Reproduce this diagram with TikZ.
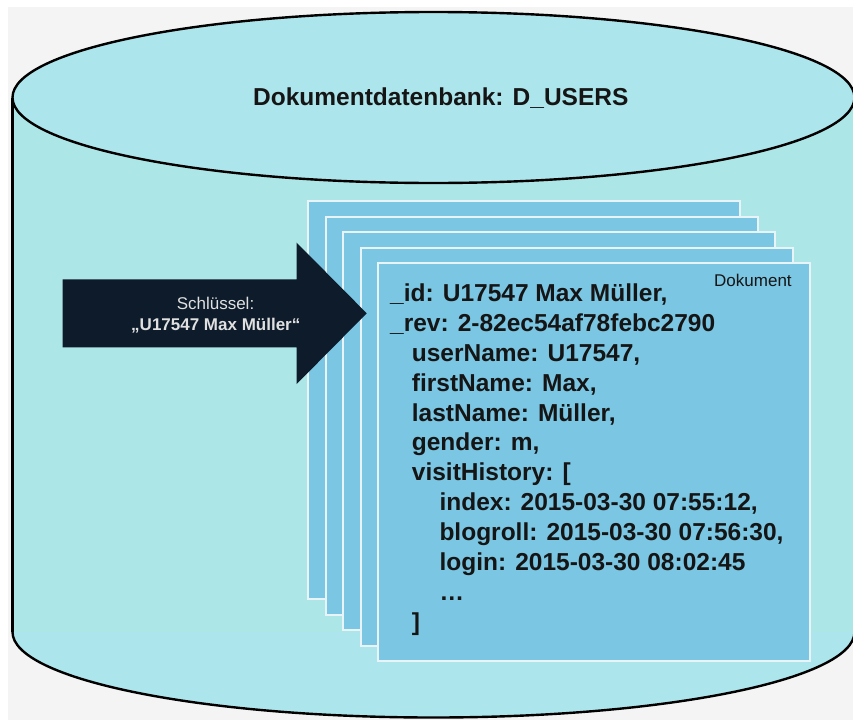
\documentclass[tikz,border=0pt]{standalone}
\usepackage{fontspec}
\setmainfont{Liberation Sans}
\definecolor{bggray}{HTML}{F4F4F4}
\definecolor{cylbody}{HTML}{ACE6E6}
\definecolor{cyltop}{HTML}{ACE6EC}
\definecolor{pagefill}{HTML}{7AC6E3}
\definecolor{pageedge}{HTML}{E8F4F8}
\definecolor{arrowc}{HTML}{0D1B2A}
\definecolor{txt}{HTML}{151515}
\begin{document}
\begin{tikzpicture}[x=1pt,y=-1pt,
  outline/.style={draw=black,line width=2.4pt},
  docpage/.style={draw=pageedge,fill=pagefill,line width=2pt,minimum width=432pt,minimum height=398pt,inner sep=0pt,anchor=north west},
  docline/.style={anchor=base west,inner sep=0pt,text=txt,font=\fontsize{24.5}{29}\selectfont\bfseries},
  keytext/.style={anchor=base,inner sep=0pt,text=white!88!black}]
\useasboundingbox (0,0) rectangle (853,720);
\fill[white] (0,0) rectangle (853,720);
\fill[bggray] (8,7) rectangle (853,720);
% cylinder bottom
\fill[cyltop] (433.5,632) ellipse [x radius=421, y radius=85.5];
\draw[outline] (12.5,632) arc[start angle=180,end angle=0,x radius=421,y radius=85.5];
% cylinder body
\fill[cylbody] (12.5,97.5) rectangle (854.5,632);
\draw[outline] (12.5,97.5) -- (12.5,632);
\draw[outline] (854.5,97.5) -- (854.5,632);
% cylinder top
\draw[outline,fill=cyltop] (433.5,97.5) ellipse [x radius=421, y radius=85.5];
\node[anchor=base,inner sep=0pt,text=txt,font=\fontsize{24.5}{29}\selectfont\bfseries] (title) at (440.8,105) {Dokumentdatenbank: D\_USERS};
% pages
\node[docpage] (p5) at (307,200) {};
\node[docpage] (p4) at (324.5,215.5) {};
\node[docpage] (p3) at (342,231) {};
\node[docpage] (p2) at (359.5,246.5) {};
\node[docpage] (p1) at (377,262) {};
\node[anchor=base west,inner sep=0pt,text=txt,font=\fontsize{17}{20}\selectfont] (doklabel) at (714,286) {Dokument};
% key arrow
\fill[arrowc] (62.7,279.3) -- (296.7,279.3) -- (296.7,242.7) -- (366.7,313.3) -- (296.7,384) -- (296.7,347.3) -- (62.7,347.3) -- cycle;
\node[keytext,font=\fontsize{17}{20}\selectfont] (key1) at (215.5,309) {Schlüssel:};
\node[keytext,font=\fontsize{17}{20}\selectfont\bfseries] (key2) at (215.8,330) {„U17547 Max Müller“};
% document lines
\node[docline] (l1) at (390,301.7) {\_id: U17547 Max Müller,};
\node[docline] (l2) at (390,331.55) {\_rev: 2-82ec54af78febc2790};
\node[docline] (l3) at (411.7,361.4) {userName: U17547,};
\node[docline] (l4) at (411.7,391.25) {firstName: Max,};
\node[docline] (l5) at (411.7,421.1) {lastName: Müller,};
\node[docline] (l6) at (411.7,450.95) {gender: m,};
\node[docline] (l7) at (411.7,480.8) {visitHistory: [};
\node[docline] (l8) at (439.3,510.65) {index: 2015-03-30 07:55:12,};
\node[docline] (l9) at (439.3,540.5) {blogroll: 2015-03-30 07:56:30,};
\node[docline] (l10) at (439.3,570.35) {login: 2015-03-30 08:02:45};
\node[docline] (l11) at (439.3,600.2) {…};
\node[docline] (l12) at (411.7,630.05) {]};
\end{tikzpicture}
\end{document}
